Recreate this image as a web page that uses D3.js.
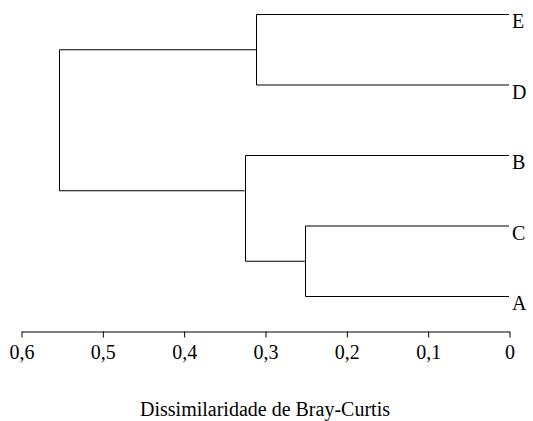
<!DOCTYPE html>
<meta charset="utf-8">
<html>
<head>
<title>Dendrograma Bray-Curtis</title>
<script src="https://d3js.org/d3.v7.min.js"></script>
<style>
    body {
        margin: 0;
        background: #fff;
    }
</style>
<body>
<svg id="tree"></svg>
<script>

// leaves top to bottom
var leaves = ["E", "D", "B", "C", "A"]
// merges: left child, right child, dissimilarity
var mergeLeft = ["E", "C", "B", "ED"]
var mergeRight = ["D", "A", "CA", "BCA"]
var mergeHeight = [0.311, 0.251, 0.325, 0.553]
var tickVals = [0.6, 0.5, 0.4, 0.3, 0.2, 0.1, 0]
var axisTitle = "Dissimilaridade de Bray-Curtis"

var width = 533
var height = 421
var serif = "Liberation Serif"

var svg = d3.select("#tree")
    .attr("width", width)
    .attr("height", height)

// build tree nodes from the merge list
var nodes = {}
leaves.forEach(function(d) { nodes[d] = {name: d, h: 0} })
mergeLeft.forEach(function(l, i) {
    var r = mergeRight[i]
    nodes[l + r] = {name: l + r, h: mergeHeight[i], children: [nodes[l], nodes[r]]}
})
var root = d3.hierarchy(nodes[mergeLeft[mergeLeft.length - 1] + mergeRight[mergeRight.length - 1]])

var x = d3.scaleLinear()
    .domain([0.6, 0])
    .range([21, 509])

var y = d3.scalePoint()
    .domain(leaves)
    .range([14.5, 296.5])

// node position: halfway between the first leaves of its two branches
function ypos(d) {
    if (!d.children) return y(d.data.name)
    return (y(d.children[0].leaves()[0].data.name) + y(d.children[1].leaves()[0].data.name)) / 2
}

var g = svg.append("g")
    .attr("fill", "none")
    .attr("stroke", "#000")
    .attr("stroke-width", 1)

root.descendants().filter(d => d.children).forEach(function(d) {
    var xp = Math.round(x(d.data.h)) + 0.5
    var ys = d.children.map(ypos)
    g.append("path")
        .attr("d", "M" + xp + "," + ys[0] + "V" + ys[1])
    d.children.forEach(function(c, i) {
        g.append("path")
            .attr("d", "M" + xp + "," + ys[i] + "H" + x(c.data.h))
    })
})

// leaf labels
svg.append("g")
    .selectAll("text")
    .data(root.leaves())
    .enter()
    .append("text")
    .attr("x", x(0) + 3)
    .attr("y", d => y(d.data.name))
    .attr("dy", "0.68em")
    .attr("font-family", serif)
    .attr("font-size", 20)
    .text(d => d.data.name)

// axis
var axis = d3.axisBottom(x)
    .tickValues(tickVals)
    .tickSize(6)
    .tickSizeOuter(0)
    .tickPadding(7)
    .tickFormat(d => d === 0 ? "0" : d3.format(".1f")(d).replace(".", ","))

var ax = svg.append("g")
    .attr("transform", "translate(0.5,331.5)")
    .call(axis)
    .attr("font-family", serif)
    .attr("font-size", 20)
ax.selectAll("text").attr("fill", "#000")
ax.selectAll("line, path").attr("stroke", "#000")

svg.append("text")
    .attr("x", (x(0.6) + x(0)) / 2)
    .attr("y", 416)
    .attr("text-anchor", "middle")
    .attr("font-family", serif)
    .attr("font-size", 20)
    .text(axisTitle)

</script>
</body>
</html>
